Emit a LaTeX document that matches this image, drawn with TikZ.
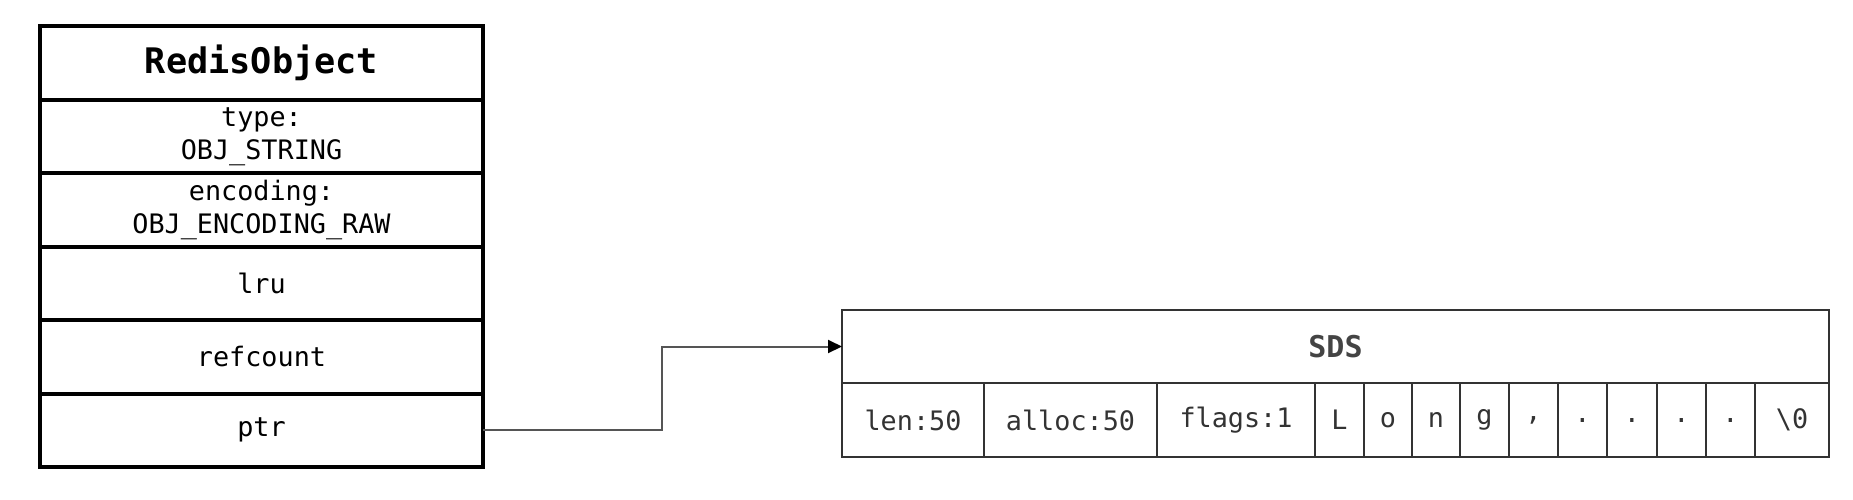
\documentclass[tikz,border=0pt]{standalone}
\usepackage{fontspec}
\newfontfamily\mono{DejaVu Sans Mono}
\usetikzlibrary{arrows.meta}
\definecolor{ln}{HTML}{333333}
\definecolor{hd}{HTML}{444444}
\definecolor{cn}{HTML}{555555}
\begin{document}
\begin{tikzpicture}[x=0.5pt,y=-0.5pt,
  row/.style={draw=black,line width=2pt,minimum width=221.5pt,minimum height=36.75pt,
    inner sep=0pt,outer sep=0pt,anchor=north west,align=center,
    font=\mono\fontsize{13.4}{16.5}\selectfont},
  sdshead/.style={draw=ln,line width=1pt,minimum width=493.5pt,minimum height=36.5pt,
    inner sep=0pt,outer sep=0pt,anchor=north west,text=hd,
    font=\mono\bfseries\fontsize{15}{18}\selectfont},
  cell/.style={draw=ln,line width=1pt,minimum width=#1*0.5pt,minimum height=37pt,
    inner sep=0pt,outer sep=0pt,anchor=north west,text=ln,
    font=\mono\fontsize{13.4}{16}\selectfont},
  conn/.style={draw=cn,line width=1pt,-{Triangle[length=7pt,width=6.5pt,color=black,fill=black]}}]
\useasboundingbox (0,0) rectangle (1853,499);
% RedisObject
\node[row] (title) at (40,26) {\fontsize{17.6}{20}\selectfont\bfseries RedisObject};
\node[row] (type) at (40,99.5) {type:\\OBJ\_STRING};
\node[row] (enc) at (40,173) {encoding:\\OBJ\_ENCODING\_RAW};
\node[row] (lru) at (40,246.5) {lru};
\node[row] (ref) at (40,320) {refcount};
\node[row] (ptr) at (40,393.5) {ptr};
% SDS
\node[sdshead] (sds) at (842,310) {SDS};
\node[cell=142] (len) at (842,383) {len:50};
\node[cell=173] (alloc) at (984,383) {alloc:50};
\node[cell=158] (flags) at (1157,383) {flags:1};
\node[cell=49] (cL) at (1315,383) {L};
\node[cell=48] (co) at (1364,383) {o};
\node[cell=48] (cn) at (1412,383) {n};
\node[cell=49] (cg) at (1460,383) {g};
\node[cell=49] (ccomma) at (1509,383) {,};
\node[cell=49] (cd1) at (1558,383) {.};
\node[cell=50] (cd2) at (1607,383) {.};
\node[cell=49] (cd3) at (1657,383) {.};
\node[cell=49] (cd4) at (1706,383) {.};
\node[cell=74] (cnul) at (1755,383) {\textbackslash0};
% connector
\coordinate (bend) at (662,0);
\draw[conn] (ptr.east) -- (ptr.east -| bend) |- (sds.west);
\end{tikzpicture}
\end{document}
